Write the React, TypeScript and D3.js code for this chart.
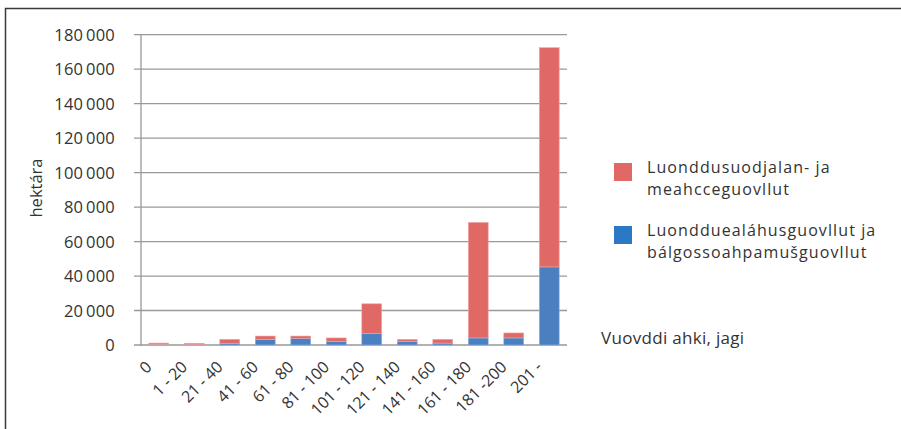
import { useRef, useEffect } from "react";
import * as d3 from "d3";

const categories = [
  "0", "1 - 20", "21 - 40", "41 - 60", "61 - 80", "81 - 100",
  "101 - 120", "121 - 140", "141 - 160", "161 - 180", "181 -200", "201 -",
];
const blueValues = [300, 200, 1000, 3300, 3900, 2100, 6800, 2100, 1100, 4100, 4100, 45300];
const redValues = [800, 800, 2300, 1900, 1300, 2000, 17100, 1200, 2200, 67000, 2900, 127200];
const yTicks = [0, 20000, 40000, 60000, 80000, 100000, 120000, 140000, 160000, 180000];
const seriesNames = [
  ["Luonddusuodjalan- ja", "meahcceguovllut"],
  ["Luondduealáhusguovllut ja", "bálgossoahpamušguovllut"],
];

const RED = "#e06966";
const BLUE = "#4a80c0";
const LEGEND_BLUE = "#2b78c5";
const FONT = "'Open Sans', 'Noto Sans', sans-serif";

export default function App() {
  const svgRef = useRef<SVGSVGElement>(null);

  useEffect(() => {
    if (!svgRef.current) return;
    const svg = d3.select(svgRef.current);
    svg.selectAll("*").remove();

    const width = 901;
    const height = 429;
    svg.attr("width", width).attr("height", height);

    // frame
    svg.append("path")
      .attr("d", `M5.5,${height} V8.5 H${width}`)
      .attr("fill", "none")
      .attr("stroke", "#3a3a3a")
      .attr("stroke-width", 1.5);

    const x = d3.scaleBand<string>()
      .domain(categories)
      .range([141, 567])
      .paddingInner(0.44)
      .paddingOuter(0.22);
    const y = d3.scaleLinear().domain([0, 180000]).range([345, 34.7]);

    // grid
    svg.append("g")
      .selectAll("line")
      .data(yTicks)
      .join("line")
      .attr("x1", 134)
      .attr("x2", 567)
      .attr("y1", (d) => y(d))
      .attr("y2", (d) => y(d))
      .attr("stroke", "#999")
      .attr("stroke-width", 1.3);

    svg.append("line")
      .attr("x1", 141)
      .attr("x2", 141)
      .attr("y1", y(180000))
      .attr("y2", y(0) + 1)
      .attr("stroke", "#999")
      .attr("stroke-width", 1.3);

    // y tick labels
    svg.append("g")
      .selectAll("text")
      .data(yTicks)
      .join("text")
      .attr("x", 115)
      .attr("y", (d) => y(d) + 6)
      .attr("text-anchor", "end")
      .style("font-family", FONT)
      .style("font-size", "16.5px")
      .style("letter-spacing", "0.2px")
      .style("fill", "#333")
      .text((d) => d3.format(",")(d).replace(/,/g, "\u2009"));

    // stacked bars
    const bw = x.bandwidth();
    const bars = svg.append("g");
    categories.forEach((c, i) => {
      const b = blueValues[i];
      const r = redValues[i];
      bars.append("rect")
        .attr("x", x(c)!)
        .attr("y", y(b))
        .attr("width", bw)
        .attr("height", y(0) - y(b))
        .attr("fill", BLUE)
        .attr("stroke", "#8fb0dc")
        .attr("stroke-width", 0.6);
      bars.append("rect")
        .attr("x", x(c)!)
        .attr("y", y(b + r))
        .attr("width", bw)
        .attr("height", y(b) - y(b + r))
        .attr("fill", RED)
        .attr("stroke", "#f0a8a6")
        .attr("stroke-width", 0.6);
    });

    // x labels
    svg.append("g")
      .selectAll("text")
      .data(categories)
      .join("text")
      .attr("text-anchor", "end")
      .attr("transform", (d) => {
        const cx = x(d)! + bw / 2 - 6;
        return `translate(${cx},368) rotate(-45)`;
      })
      .style("font-family", FONT)
      .style("font-size", "16px")
      .style("fill", "#333")
      .text((d) => d);

    // y axis title
    svg.append("text")
      .attr("transform", "translate(42,188) rotate(-90)")
      .attr("text-anchor", "middle")
      .style("font-family", FONT)
      .style("font-size", "16.5px")
      .style("fill", "#333")
      .text("hektára");

    // legend
    const colors = [RED, LEGEND_BLUE];
    const legTops = [163, 226];
    seriesNames.forEach((lines, i) => {
      svg.append("rect")
        .attr("x", 614)
        .attr("y", legTops[i])
        .attr("width", 18)
        .attr("height", 18)
        .attr("fill", colors[i]);
      lines.forEach((line, j) => {
        svg.append("text")
          .attr("x", 647)
          .attr("y", legTops[i] + 9.5 + j * 22)
          .style("font-family", FONT)
          .style("font-size", "16px")
          .style("letter-spacing", "1.1px")
          .style("fill", "#333")
          .text(line);
      });
    });

    svg.append("text")
      .attr("x", 601)
      .attr("y", 344)
      .style("font-family", FONT)
      .style("font-size", "17px")
      .style("letter-spacing", "0.3px")
      .style("fill", "#333")
      .text("Vuovddi ahki, jagi");

    return () => {
      svg.selectAll("*").remove();
    };
  }, []);

  return (
    <div style={{ position: "fixed", left: 0, top: 0, background: "#fff" }}>
      <svg ref={svgRef} style={{ display: "block" }} />
    </div>
  );
}
